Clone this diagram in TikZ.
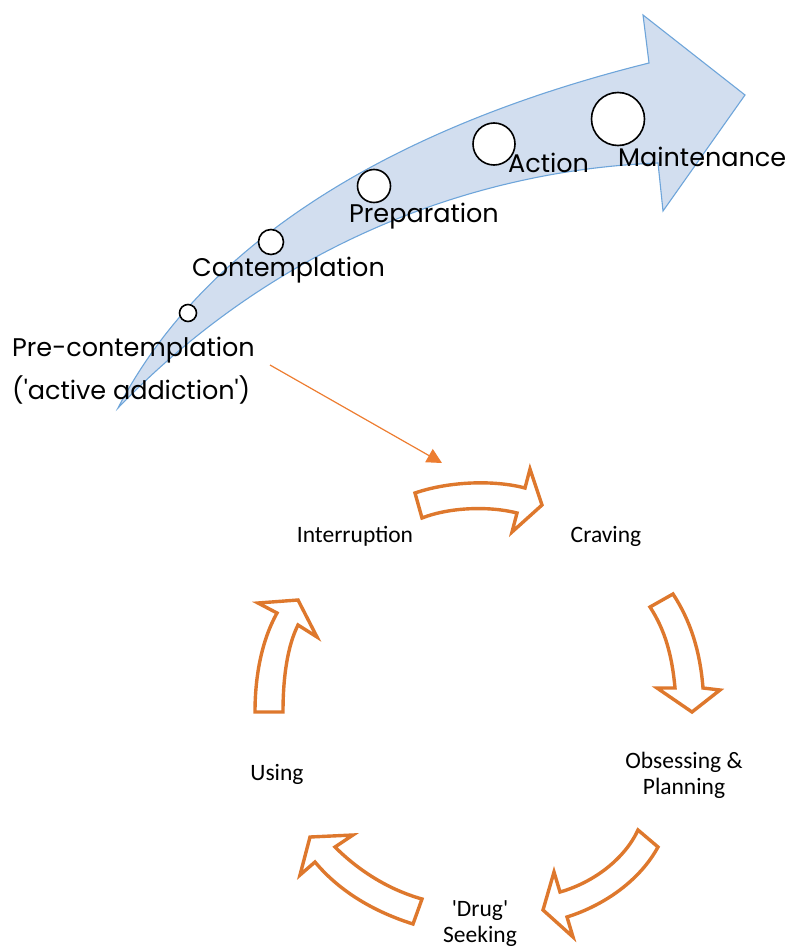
\documentclass[tikz,border=0pt]{standalone}
\usepackage{fontspec}
\newfontfamily\gothic{Poppins}
\newfontfamily\carl{Carlito}
\usetikzlibrary{arrows.meta}
\definecolor{bfill}{RGB}{210,222,239}
\definecolor{bline}{RGB}{110,165,218}
\definecolor{org}{RGB}{222,120,45}
\definecolor{orgl}{RGB}{237,125,49}
\tikzset{
  stage/.style={font=\gothic\fontsize{25.5}{30}\selectfont, inner sep=0pt, anchor=west},
  dot/.style={circle, draw=black, line width=1.6pt, fill=white, inner sep=0pt},
  cyc/.style={font=\carl\fontsize{23.5}{26}\selectfont, inner sep=0pt, align=center},
  blockarrow/.style={draw=org, line width=3.4pt, fill=white, line join=miter},
  thinarrow/.style={draw=orgl, line width=1.2pt, -{Triangle[length=15pt,width=15pt]}}
}
\begin{document}
\begin{tikzpicture}[x=1pt,y=-1pt]
\useasboundingbox (0,0) rectangle (795,947);
% big blue arrow
\draw[fill=bfill, draw=bline, line width=1.1pt, line join=miter]
  (118,408) .. controls (200,250) and (380,130) .. (649,63)
  -- (643,15) -- (745,95) -- (663,211) -- (658,163)
  .. controls (480,170) and (280,240) .. (118,408) -- cycle;
% circles
\node[dot, minimum size=17pt] (c1) at (188,313) {};
\node[dot, minimum size=25pt] (c2) at (271,242) {};
\node[dot, minimum size=33pt] (c3) at (374,186) {};
\node[dot, minimum size=42pt] (c4) at (494,144) {};
\node[dot, minimum size=53pt] (c5) at (618,119) {};
% stage labels
\node[stage] (pre1) at (12,350) {Pre-contemplation};
\node[stage] (pre2) at (12,390) {('active addiction')};
\node[stage] (con) at (192,270) {Contemplation};
\node[stage] (prep) at (349,216) {Preparation};
\node[stage] (act) at (508,163) {Action};
\node[stage] (mai) at (618,157) {Maintenance};
% thin arrow
\coordinate (ta) at (270,365);
\coordinate (tb) at (442,463);
\draw[thinarrow] (ta) -- (tb);
% cycle labels
\node[cyc] (intr) at (355,536) {Interruption};
\node[cyc] (crav) at (606,536) {Craving};
\node[cyc] (obs) at (684,775) {Obsessing \&\\Planning};
\node[cyc] (drug) at (480,924) {'Drug'\\Seeking};
\node[cyc] (using) at (277,774) {Using};
% block arrows
\draw[blockarrow] (415,493) .. controls (450,481) and (495,480) .. (525,488)
  -- (530,469) -- (542,505) -- (512,532) -- (517,513)
  .. controls (490,506) and (450,507) .. (422,518) -- cycle;
\draw[blockarrow] (650,607) -- (673,594) .. controls (690,620) and (700,650) .. (703,688)
  -- (720,690) -- (692,712) -- (657,688) -- (675,688)
  .. controls (672,655) and (665,630) .. (650,607) -- cycle;
\draw[blockarrow] (638,830) -- (658,847) .. controls (640,880) and (605,905) .. (567,917)
  -- (573,937) -- (543,910) -- (554,872) -- (560,892)
  .. controls (595,882) and (625,858) .. (638,830) -- cycle;
\draw[blockarrow] (422,899) -- (413,924) .. controls (375,912) and (340,892) .. (315,862)
  -- (300,875) -- (310,837) -- (353,835) -- (335,847)
  .. controls (360,872) and (390,890) .. (422,899) -- cycle;
\draw[blockarrow] (255,712) -- (283,712) .. controls (283,675) and (288,645) .. (298,625)
  -- (317,637) -- (298,600) -- (258,603) -- (277,613)
  .. controls (262,640) and (255,675) .. (255,712) -- cycle;
\end{tikzpicture}
\end{document}
